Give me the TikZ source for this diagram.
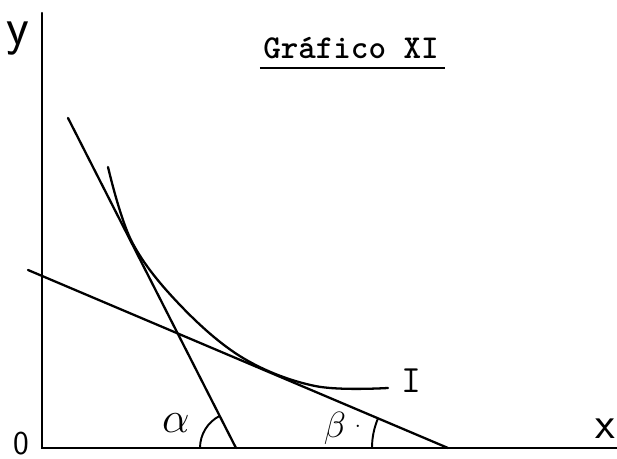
\documentclass[tikz,border=0pt]{standalone}
\usepackage{fontspec}
\usetikzlibrary{positioning}

\begin{document}
\begin{tikzpicture}[
    axis/.style={line width=1.4pt, line cap=round},
    line/.style={line width=1.3pt, line cap=round},
    lbl/.style={inner sep=0pt, font=\fontsize{22}{24}\selectfont}
  ]
    \useasboundingbox (0,0) rectangle (12.34,9.18);

    % axes
    \coordinate (O)    at (0.84,0.22);
    \coordinate (ytop) at (0.84,8.92);
    \coordinate (xend) at (12.40,0.22);
    \draw[axis] (ytop) -- (O) -- (xend);

    \node[lbl, font=\fontsize{30}{32}\selectfont\sffamily] (ylab) at (0.36,8.40) {y};
    \node[lbl, font=\fontsize{26}{28}\selectfont\sffamily] (xlab) at (12.10,0.60) {x};
    \node[lbl, font=\fontsize{19}{21}\selectfont\sffamily] (olab) at (0.42,0.30) {0};

    % title
    \node[inner sep=0pt, font=\fontsize{19}{22}\selectfont\ttfamily\bfseries] (title) at (7.02,8.22) {Gráfico XI};
    \draw[line width=1.1pt] (5.20,7.82) -- (8.90,7.82);

    % the two lines
    \coordinate (atop) at (1.36,6.82);
    \coordinate (abot) at (4.72,0.22);
    \coordinate (btop) at (0.56,3.78);
    \coordinate (bbot) at (8.96,0.22);
    \draw[line] (atop) -- (abot);
    \draw[line] (btop) -- (bbot);

    % curve I
    \draw[line] plot[smooth, tension=0.6] coordinates {
        (2.16,5.84) (2.64,4.34) (3.60,3.08) (4.86,2.02) (6.30,1.46) (7.76,1.42)};
    \node[lbl, font=\fontsize{22}{24}\selectfont\ttfamily] (ilab) at (8.22,1.56) {I};

    % angles
    \draw[line width=1.1pt] ([shift={(180:0.72)}]abot) arc[start angle=180, end angle=117, radius=0.72];
    \draw[line width=1.1pt] ([shift={(180:1.52)}]bbot) arc[start angle=180, end angle=157, radius=1.52];
    \node[lbl, font=\fontsize{24}{26}\selectfont] (alab) at (3.52,0.72) {$\alpha$};
    \node[lbl, font=\fontsize{20}{22}\selectfont] (blab) at (6.70,0.62) {$\beta$};
    \node[lbl, font=\fontsize{16}{18}\selectfont] (bdot) at (7.16,0.66) {.};
  \end{tikzpicture}
\end{document}
